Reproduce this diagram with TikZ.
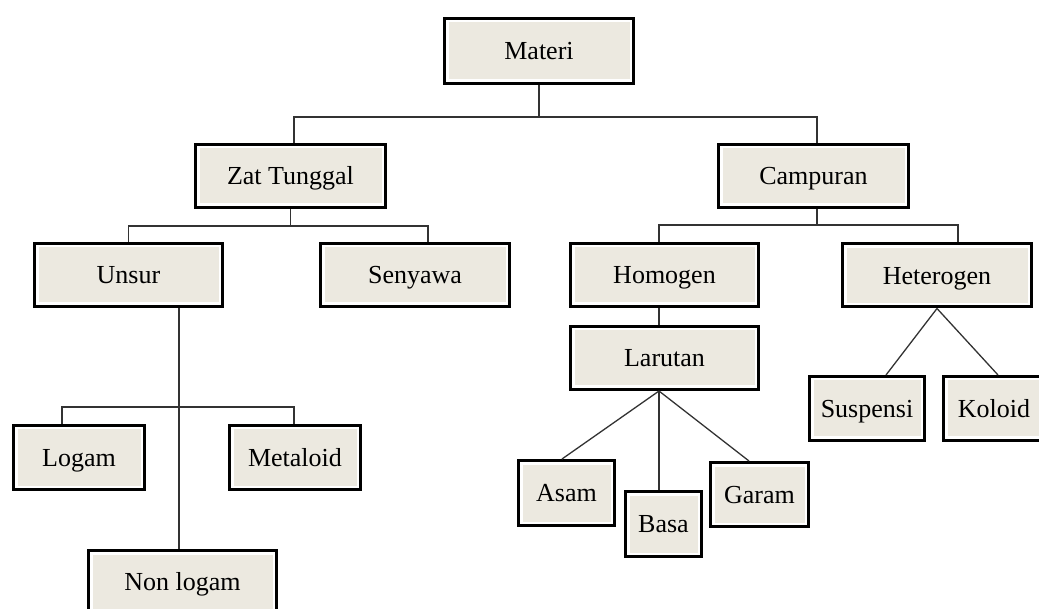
\documentclass[tikz,border=0pt]{standalone}
\usepackage{fontspec}
\setmainfont{Liberation Serif}
\usepackage{xcolor}
\usepackage{tikz}
\definecolor{isi}{HTML}{ECE9E0}
\definecolor{garis}{HTML}{333333}
\tikzset{
    kotak/.style={draw=black, line width=3pt, fill=white, inner sep=0pt,
        minimum height=63pt, text height=17.5pt, text depth=0pt,
        font=\fontsize{26}{31}\selectfont,
        path picture={\fill[isi] ([shift={(4pt,-4pt)}]path picture bounding box.north west)
            rectangle ([shift={(-4pt,4pt)}]path picture bounding box.south east);}},
    hubung/.style={draw=garis, line width=1.3pt}
}

\begin{document}
\begin{tikzpicture}[x=1pt, y=-1pt]
            \useasboundingbox (0,0) rectangle (1039,609);
            \clip (0,0) rectangle (1039,609);

            \node[kotak, minimum width=189pt, minimum height=65pt] (materi) at (539,51) {Materi};
            \node[kotak, minimum width=190pt] (zat) at (290.5,176) {Zat Tunggal};
            \node[kotak, minimum width=190pt] (campuran) at (813.5,176) {Campuran};
            \node[kotak, minimum width=188pt] (unsur) at (128.5,275) {Unsur};
            \node[kotak, minimum width=189pt] (senyawa) at (415,275) {Senyawa};
            \node[kotak, minimum width=188pt] (homogen) at (664.5,275) {Homogen};
            \node[kotak, minimum width=189pt] (heterogen) at (937,275.5) {Heterogen};
            \node[kotak, minimum width=188pt] (larutan) at (664.5,358) {Larutan};
            \node[kotak, minimum width=131pt, minimum height=64pt] (logam) at (79,457.5) {Logam};
            \node[kotak, minimum width=131pt, minimum height=64pt] (metaloid) at (295,457.5) {Metaloid};
            \node[kotak, minimum width=188pt] (nonlogam) at (182.5,582) {Non logam};
            \node[kotak, minimum width=96pt, minimum height=65pt] (asam) at (566.5,493) {Asam};
            \node[kotak, minimum width=76pt, minimum height=65pt] (basa) at (663.5,524) {Basa};
            \node[kotak, minimum width=98pt, minimum height=64pt] (garam) at (759.5,494.5) {Garam};
            \node[kotak, minimum width=115pt, minimum height=64pt] (suspensi) at (867,408.5) {Suspensi};
            \node[kotak, minimum width=101pt, minimum height=64pt] (koloid) at (994,408.5) {Koloid};

            \coordinate (m1) at (539,117);
            \coordinate (z1) at (290.5,226);
            \coordinate (c1) at (817,225);
            \coordinate (u1) at (179,407);

            \draw[hubung] (materi.south) -- (m1);
            \draw[hubung] ([xshift=3.5pt]zat.north) |- (m1) -| ([xshift=3.5pt]campuran.north);
            \draw[hubung] (zat.south) -- (z1);
            \draw[hubung] (unsur.north) |- (z1) -| ([xshift=13pt]senyawa.north);
            \draw[hubung] ([xshift=3.5pt]campuran.south) -- (c1);
            \draw[hubung] ([xshift=-5.5pt]homogen.north) |- (c1) -| ([xshift=21pt]heterogen.north);
            \draw[hubung] ([xshift=-5.5pt]homogen.south) -- ([xshift=-5.5pt]larutan.north);
            \draw[hubung] ([xshift=-5.5pt]larutan.south) -- ([xshift=-4.5pt]asam.north);
            \draw[hubung] ([xshift=-5.5pt]larutan.south) -- ([xshift=-4.5pt]basa.north);
            \draw[hubung] ([xshift=-5.5pt]larutan.south) -- ([xshift=-10.5pt]garam.north);
            \draw[hubung] (heterogen.south) -- ([xshift=19pt]suspensi.north);
            \draw[hubung] (heterogen.south) -- ([xshift=4pt]koloid.north);
            \draw[hubung] ([xshift=50.5pt]unsur.south) -- ([xshift=-3.5pt]nonlogam.north);
            \draw[hubung] ([xshift=-17pt]logam.north) |- (u1) -| ([xshift=-1pt]metaloid.north);
\end{tikzpicture}
\end{document}
